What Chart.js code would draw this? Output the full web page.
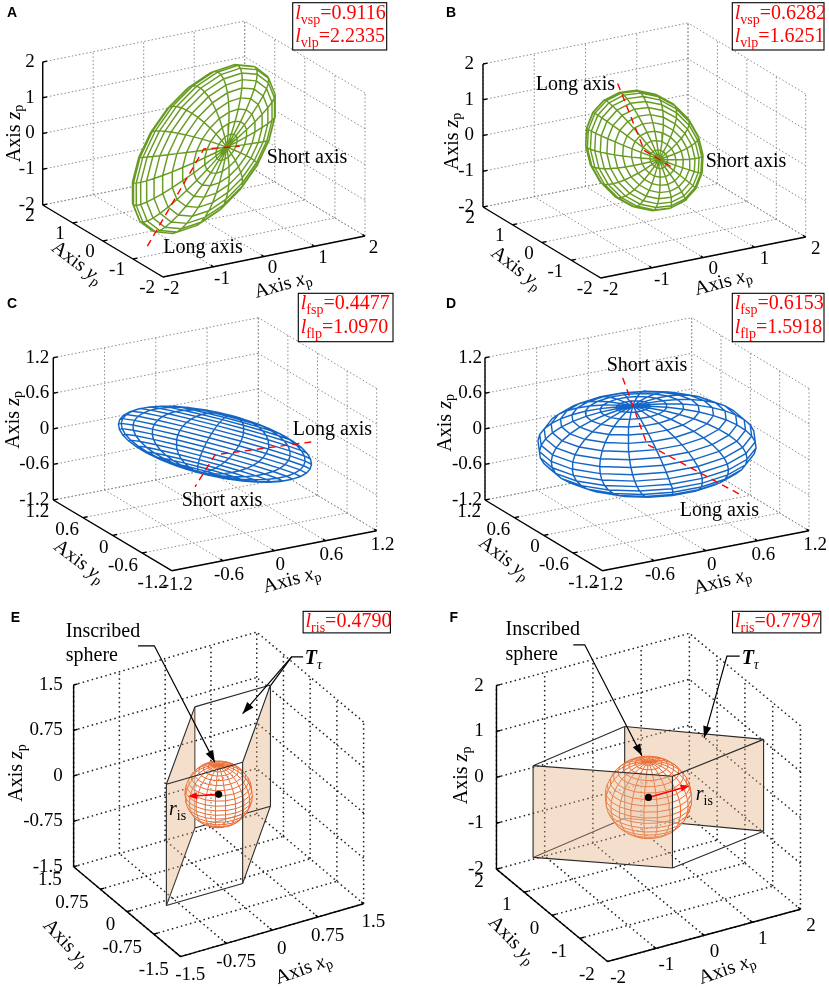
<!DOCTYPE html>
<html>
<head>
<meta charset="utf-8">
<title>Fitted ellipsoids and inscribed spheres</title>
<script src="https://cdn.jsdelivr.net/npm/chart.js@4.4.1/dist/chart.umd.min.js"></script>
<style>
  html, body { margin: 0; padding: 0; background: #fff; }
  #figure { position: relative; width: 829px; height: 989px; overflow: hidden; background: #fff; }
  #figure canvas { position: absolute; }
</style>
</head>
<body>
<div id="figure"></div>
<script>
// ---------- values ----------
const axisTicksA = [-2, -1, 0, 1, 2];
const axisTicksB = [-2, -1, 0, 1, 2];
const axisTicksC = [-1.2, -0.6, 0, 0.6, 1.2];
const axisTicksD = [-1.2, -0.6, 0, 0.6, 1.2];
const axisTicksE = [-1.5, -0.75, 0, 0.75, 1.5];
const axisTicksF = [-2, -1, 0, 1, 2];
const tickLabelsVol = ['-2', '-1', '0', '1', '2'];
const tickLabelsForm = ['-1.2', '-0.6', '0', '0.6', '1.2'];
const tickLabelsE = ['-1.5', '-0.75', '0', '0.75', '1.5'];

// lengths printed in the red boxes
const lengthNamesA = ['vsp', 'vlp'], lengthsA = [0.9116, 2.2335];
const lengthNamesB = ['vsp', 'vlp'], lengthsB = [0.6282, 1.6251];
const lengthNamesC = ['fsp', 'flp'], lengthsC = [0.4477, 1.0970];
const lengthNamesD = ['fsp', 'flp'], lengthsD = [0.6153, 1.5918];
const lengthNamesE = ['ris'], lengthsE = [0.4790];
const lengthNamesF = ['ris'], lengthsF = [0.7797];

// ellipsoids: semi-axes [equator 1, equator 2, polar] and their directions in (x_p, y_p, z_p)
const radiiA = [2.2335, 1.0, 0.9116];
const equatorDirA = [-0.648, -0.370, -0.666];
const poleDirA = [-0.018, -0.866, 0.498];
const radiiB = [1.6251, 1.0, 0.6282];
const equatorDirB = [-0.192, 0.148, 0.970];
const poleDirB = [-0.110, -0.985, 0.129];
const radiiC = [1.0970, 0.81, 0.4477];
const equatorDirC = [0.423, -0.906, 0.0];
const poleDirC = [0.583, 0.272, 0.766];
const radiiD = [1.5918, 1.05, 0.6153];
const equatorDirD = [-0.155, -0.962, 0.219];
const poleDirD = [-0.13, 0.24, 0.96];

// red dashed axis lines: long end, centre, short end
const redAxisA = [[-1.69, -0.96, -1.75], [0, 0, 0], [-0.03, -1.24, 0.71]];
const redAxisB = [[-0.36, 0.28, 1.84], [0, 0, 0], [-0.15, -1.31, 0.17]];
const redAxisC = [[1.04, -0.15, -0.18], [0, 0, -0.18], [-0.28, -0.08, -0.60]];
const redAxisD = [[0.30, -1.35, -0.25], [0, 0, 0], [-0.14, 0.26, 1.05]];

// T_tau prisms: footprint corners (back-left, back-right, front-right, front-left), z range
const prismE = [[0.10, 0.84], [1.34, 0.84], [-0.12, -0.88], [-1.37, -0.88]];
const prismHeightE = [-1, 1];
const prismF = [[0.10, 1.03], [2.03, -0.62], [-0.09, -1.02], [-2.07, 0.56]];
const prismHeightF = [-1, 1];
const radiusArrowE = [-0.40, 0.17, 0];
const radiusArrowF = [0.86, 0.02, 0];

// ---------- styles ----------
const SERIF = '"Liberation Serif", "Times New Roman", serif';
const SANS = '"Liberation Sans", Arial, sans-serif';
const GREEN = '#679b22';
const BLUE = '#1466c6';
const ORANGE = '#ea6d34';
const TAN = 'rgba(226, 168, 120, 0.38)';
const DEG = Math.PI / 180;

// ---------- small vector helpers ----------
const add = (a, b) => [a[0] + b[0], a[1] + b[1], a[2] + b[2]];
const sub = (a, b) => [a[0] - b[0], a[1] - b[1], a[2] - b[2]];
const mul = (a, s) => [a[0] * s, a[1] * s, a[2] * s];
const dot = (a, b) => a[0] * b[0] + a[1] * b[1] + a[2] * b[2];
const cross = (a, b) => [a[1] * b[2] - a[2] * b[1], a[2] * b[0] - a[0] * b[2], a[0] * b[1] - a[1] * b[0]];
const unit = a => mul(a, 1 / Math.hypot(a[0], a[1], a[2]));
const mean = pts => mul(pts.reduce(add, [0, 0, 0]), 1 / pts.length);

// orthographic view of the axes box (pixel vectors span the full axis range)
function makeView(v, lo, hi) {
    const s = hi - lo;
    const to2d = p => {
        const a = (p[0] - lo) / s, b = (p[1] - lo) / s, c = (p[2] - lo) / s;
        return {
            x: v.O[0] + a * v.ex[0] + b * v.ey[0] + c * v.ez[0],
            y: v.O[1] + a * v.ex[1] + b * v.ey[1] + c * v.ez[1]
        };
    };
    const row1 = [v.ex[0] / s, v.ey[0] / s, v.ez[0] / s];
    const row2 = [v.ex[1] / s, v.ey[1] / s, v.ez[1] / s];
    return {to2d, toViewer: unit(mul(cross(row1, row2), -1))};
}

function lineSet(polys, V, style) {
    const data = [];
    polys.forEach(poly => {
        poly.forEach(p => data.push(V ? V.to2d(p) : {x: p[0], y: p[1]}));
        data.push({x: NaN, y: NaN});
    });
    return Object.assign({
        data, showLine: true, pointRadius: 0, fill: false, spanGaps: false,
        borderWidth: 1, borderColor: '#000'
    }, style);
}

function shapeSet(pts, color) {
    return {data: pts.concat([pts[0]]), showLine: true, pointRadius: 0, borderWidth: 0, fill: 'shape', backgroundColor: color};
}

function headPoly(a, b, len, half) {
    const dx = b.x - a.x, dy = b.y - a.y, L = Math.hypot(dx, dy);
    const ux = dx / L, uy = dy / L;
    const bx = b.x - ux * len, by = b.y - uy * len;
    return [{x: b.x, y: b.y}, {x: bx - uy * half, y: by + ux * half}, {x: bx + uy * half, y: by - ux * half}];
}

function hull(pts) {
    const p = pts.slice().sort((a, b) => a.x - b.x || a.y - b.y);
    const cr = (o, a, b) => (a.x - o.x) * (b.y - o.y) - (a.y - o.y) * (b.x - o.x);
    const lower = [], upper = [];
    for (const q of p) {
        while (lower.length >= 2 && cr(lower[lower.length - 2], lower[lower.length - 1], q) <= 0) lower.pop();
        lower.push(q);
    }
    for (let k = p.length - 1; k >= 0; k--) {
        const q = p[k];
        while (upper.length >= 2 && cr(upper[upper.length - 2], upper[upper.length - 1], q) <= 0) upper.pop();
        upper.push(q);
    }
    upper.pop();
    lower.pop();
    return lower.concat(upper);
}

// MATLAB style ellipsoid(…, 20) mesh, only the edges that face the viewer
function meshEdges(E, V) {
    const n = 20;
    const u3 = unit(E.pole);
    const u1 = unit(sub(E.eq, mul(u3, dot(E.eq, u3))));
    const u2 = cross(u3, u1);
    const c = E.c || [0, 0, 0];
    const P = [];
    for (let j = 0; j <= n; j++) {
        const ph = -Math.PI / 2 + Math.PI * j / n;
        const row = [];
        for (let i = 0; i <= n; i++) {
            const th = -Math.PI + 2 * Math.PI * i / n;
            const a = E.r[0] * Math.cos(ph) * Math.cos(th);
            const b = E.r[1] * Math.cos(ph) * Math.sin(th);
            const z = E.r[2] * Math.sin(ph);
            row.push(add(c, add(mul(u1, a), add(mul(u2, b), mul(u3, z)))));
        }
        P.push(row);
    }
    const vis = (i, j) => {
        if (j < 0 || j >= n) return false;
        i = ((i % n) + n) % n;
        const ph = -Math.PI / 2 + Math.PI * (j + 0.5) / n;
        const th = -Math.PI + 2 * Math.PI * (i + 0.5) / n;
        const nv = add(mul(u1, Math.cos(ph) * Math.cos(th) / E.r[0]),
            add(mul(u2, Math.cos(ph) * Math.sin(th) / E.r[1]), mul(u3, Math.sin(ph) / E.r[2])));
        return dot(nv, V.toViewer) > 0;
    };
    const polys = [];
    for (let j = 1; j < n; j++) {
        let cur = null;
        for (let i = 0; i < n; i++) {
            if (vis(i, j - 1) || vis(i, j)) {
                if (!cur) { cur = [P[j][i]]; polys.push(cur); }
                cur.push(P[j][i + 1]);
            } else cur = null;
        }
    }
    for (let i = 0; i < n; i++) {
        let cur = null;
        for (let j = 0; j < n; j++) {
            if (vis(i - 1, j) || vis(i, j)) {
                if (!cur) { cur = [P[j][i]]; polys.push(cur); }
                cur.push(P[j + 1][i]);
            } else cur = null;
        }
    }
    return {polys, points: [].concat(...P)};
}

function gridLines(t, lo, hi) {
    const L = [];
    t.forEach(v => {
        L.push([[v, lo, lo], [v, hi, lo]]);
        L.push([[lo, v, lo], [hi, v, lo]]);
        L.push([[v, hi, lo], [v, hi, hi]]);
        L.push([[lo, hi, v], [hi, hi, v]]);
        L.push([[hi, v, lo], [hi, v, hi]]);
        L.push([[hi, lo, v], [hi, hi, v]]);
    });
    return L;
}

// ---------- panel layout ----------
const note = (text, at) => ({runs: [{t: text}], at});
const tRuns = [{t: 'T', style: 'bold italic'}, {t: '\u03c4', style: 'italic', sub: true}];
const rRuns = [{t: 'r', style: 'italic'}, {t: 'is', sub: true}];

const panels = [
    {
        letter: 'A', left: 0, top: 0, w: 414, h: 300, ticks: axisTicksA, labels: tickLabelsVol,
        view: {O: [163, 277], ex: [202, -41], ey: [-120.3, -72], ez: [0, -143]},
        tickPos: {z: -8, y: [-8, 11], x: [8.5, 12]},
        titlePos: {x: [19, 28.5], y: [-26, 22], z: [-28, 0]},
        letterPos: [7, 17], box: [292.7, 2.7, 386.7, 50], names: lengthNamesA, values: lengthsA,
        ellipsoid: {r: radiiA, eq: equatorDirA, pole: poleDirA, color: GREEN}, red: redAxisA,
        notes: [note('Short axis', [266.7, 163.3]), note('Long axis', [163.3, 252.5])]
    },
    {
        letter: 'B', left: 414, top: 0, w: 415, h: 300, ticks: axisTicksB, labels: tickLabelsVol,
        view: {O: [600.7, 278], ex: [205, -41], ey: [-117.7, -71], ez: [0, -143]},
        tickPos: {z: -9, y: [-8, 11.3], x: [10, 12]},
        titlePos: {x: [20, 25], y: [-25.6, 25.8], z: [-30.7, 6]},
        letterPos: [446, 17], box: [732.3, 2.7, 824, 50], names: lengthNamesB, values: lengthsB,
        ellipsoid: {r: radiiB, eq: equatorDirB, pole: poleDirB, color: GREEN}, red: redAxisB,
        notes: [note('Long axis', [535.7, 90]), note('Short axis', [705.7, 166.7])]
    },
    {
        letter: 'C', left: 0, top: 290, w: 414, h: 315, ticks: axisTicksC, labels: tickLabelsForm,
        view: {O: [171.7, 570.7], ex: [205, -40], ey: [-118.4, -70.7], ez: [0, -142.3]},
        tickPos: {z: -4, y: [-4, 12.5], x: [6, 14]},
        titlePos: {x: [17.5, 29.3], y: [-33.5, 26.3], z: [-40, -9]},
        letterPos: [7, 308], box: [298.3, 293.3, 393, 341.7], names: lengthNamesC, values: lengthsC,
        ellipsoid: {r: radiiC, eq: equatorDirC, pole: poleDirC, color: BLUE}, red: redAxisC,
        notes: [note('Long axis', [292.7, 435]), note('Short axis', [181.7, 506])]
    },
    {
        letter: 'D', left: 414, top: 290, w: 415, h: 315, ticks: axisTicksD, labels: tickLabelsForm,
        view: {O: [602.3, 570.7], ex: [206.7, -40], ey: [-117.3, -70.7], ez: [0, -142.3]},
        tickPos: {z: -3, y: [-4, 12], x: [6, 14]},
        titlePos: {x: [16.7, 31], y: [-39.6, 23], z: [-39.3, -6]},
        letterPos: [446, 308], box: [732.3, 293.3, 824, 341.7], names: lengthNamesD, values: lengthsD,
        ellipsoid: {r: radiiD, eq: equatorDirD, pole: poleDirD, color: BLUE}, red: redAxisD,
        notes: [note('Short axis', [606.7, 370.7]), note('Long axis', [679.7, 516])]
    },
    {
        letter: 'E', left: 0, top: 600, w: 414, h: 389, ticks: axisTicksE, labels: tickLabelsE,
        view: {O: [180, 960], ex: [186.7, -54], ey: [-109, -91.7], ez: [0, -185.6]},
        tickPos: {z: -11, y: [-12, 14], x: [10, 19]},
        titlePos: {x: [32, 40], y: [-62, 32.5], z: [-57.7, -3]},
        letterPos: [7, 618.5], box: [305, 607.5, 394, 629.5], names: lengthNamesE, values: lengthsE,
        sphere: {r: lengthsE[0], color: ORANGE}, prism: prismE, prismZ: prismHeightE, faces: [[0, 3], [1, 2]],
        arrow: radiusArrowE,
        notes: [note('Inscribed', [63, 634]), note('sphere', [63, 658.3]),
            {runs: tRuns, at: [306.7, 661.7]}, {runs: rRuns, at: [168.3, 815]}],
        leaders: [
            {pts: [[136.7, 642.7], [153.3, 642.7], [215, 761.7]], head: true},
            {pts: [[305, 654], [293.3, 654], [243.3, 712]], head: true},
            {pts: [[293.3, 654], [272, 683]], head: false}
        ]
    },
    {
        letter: 'F', left: 414, top: 600, w: 415, h: 389, ticks: axisTicksF, labels: tickLabelsVol,
        view: {O: [607.3, 965], ex: [196.7, -53.3], ey: [-113.3, -94.3], ez: [0, -187.4]},
        tickPos: {z: -13, y: [-13, 13.5], x: [10.7, 17]},
        titlePos: {x: [23.4, 35], y: [-41, 25.5], z: [-35, -2]},
        letterPos: [446, 618.5], box: [734.7, 607.5, 824.7, 629.5], names: lengthNamesF, values: lengthsF,
        sphere: {r: lengthsF[0], color: ORANGE}, prism: prismF, prismZ: prismHeightF, faces: [[0, 1], [2, 3]],
        arrow: radiusArrowF,
        notes: [note('Inscribed', [503.3, 631.7]), note('sphere', [503.3, 656.7]),
            {runs: tRuns, at: [744, 661.7]}, {runs: rRuns, at: [697.3, 800]}],
        leaders: [
            {pts: [[572.3, 641.7], [584, 641.7], [642.3, 755]], head: true},
            {pts: [[742, 653.3], [729, 653.3], [705.7, 736.7]], head: true}
        ]
    }
];

function buildDatasets(S) {
    const lo = S.ticks[0], hi = S.ticks[S.ticks.length - 1];
    const V = makeView(S.view, lo, hi);
    const sets = [];
    const boxed = !!S.prism;
    sets.push(lineSet(gridLines(S.ticks, lo, hi), V, boxed
        ? {borderColor: '#1c1c1c', borderWidth: 1.5, borderDash: [1.5, 3.2]}
        : {borderColor: '#8a8a8a', borderWidth: 1, borderDash: [1.5, 2.2]}));

    const k = 0.022 * (hi - lo);
    const axes = [[[lo, lo, lo], [hi, lo, lo]], [[lo, lo, lo], [lo, hi, lo]], [[lo, hi, lo], [lo, hi, hi]]];
    S.ticks.forEach(t => {
        axes.push([[t, lo, lo], [t, lo + k, lo]]);
        axes.push([[lo, t, lo], [lo + k, t, lo]]);
        axes.push([[lo, hi, t], [lo + k, hi, t]]);
    });
    sets.push(lineSet(axes, V, {borderColor: '#000', borderWidth: 1.4}));

    if (S.ellipsoid) {
        const M = meshEdges(S.ellipsoid, V);
        sets.push(shapeSet(hull(M.points.map(V.to2d)), '#ffffff'));
        sets.push(lineSet(M.polys, V, {borderColor: S.ellipsoid.color, borderWidth: 1.45}));
        sets.push(lineSet([S.red], V, {borderColor: '#ff0000', borderWidth: 1.4, borderDash: [7, 5]}));
    }

    if (S.sphere) {
        const depth = p => dot(p, V.toViewer);
        const top = S.prism.map(c => [c[0], c[1], S.prismZ[1]]);
        const bot = S.prism.map(c => [c[0], c[1], S.prismZ[0]]);
        const edges = [];
        for (let q = 0; q < 4; q++) {
            edges.push([top[q], top[(q + 1) % 4]], [bot[q], bot[(q + 1) % 4]], [bot[q], top[q]]);
        }
        const faces = S.faces.map(([a, b]) => [bot[a], bot[b], top[b], top[a]]);
        const behind = f => depth(mean(f)) < 0;
        const edgeStyle = {borderColor: '#2a2a2a', borderWidth: 1.1};
        faces.filter(behind).forEach(f => sets.push(shapeSet(f.map(V.to2d), TAN)));
        sets.push(lineSet(edges.filter(behind), V, edgeStyle));

        const M = meshEdges({r: [S.sphere.r, S.sphere.r, S.sphere.r], eq: [1, 0, 0], pole: [0, 0, 1]}, V);
        sets.push(shapeSet(hull(M.points.map(V.to2d)), 'rgba(255,255,255,0.55)'));
        sets.push(lineSet(M.polys, V, {borderColor: S.sphere.color, borderWidth: 1}));

        faces.filter(f => !behind(f)).forEach(f => sets.push(shapeSet(f.map(V.to2d), TAN)));
        sets.push(lineSet(edges.filter(e => !behind(e)), V, edgeStyle));

        const a = V.to2d([0, 0, 0]), b = V.to2d(S.arrow);
        const head = headPoly(a, b, 9, 3.6);
        const base = {x: (head[1].x + head[2].x) / 2, y: (head[1].y + head[2].y) / 2};
        sets.push(lineSet([[[a.x, a.y], [base.x, base.y]]], null, {borderColor: '#ff0000', borderWidth: 1.6}));
        sets.push(shapeSet(head, '#ff0000'));
        sets.push({data: [a], showLine: false, pointRadius: 3.6, pointBackgroundColor: '#000', pointBorderWidth: 0});

        S.leaders.forEach(Ld => {
            sets.push(lineSet([Ld.pts], null, {borderColor: '#000', borderWidth: 1.2}));
            if (Ld.head) {
                const n = Ld.pts.length;
                const p0 = {x: Ld.pts[n - 2][0], y: Ld.pts[n - 2][1]}, p1 = {x: Ld.pts[n - 1][0], y: Ld.pts[n - 1][1]};
                sets.push(shapeSet(headPoly(p0, p1, 12, 4.2), '#000'));
            }
        });
    }
    sets.forEach((d, i) => { d.order = -i; });
    return {sets, V, lo, hi};
}

function textItems(S, V, lo, hi) {
    const items = [];
    S.ticks.forEach((t, i) => {
        const lab = [{t: S.labels[i]}];
        let p = V.to2d([lo, hi, t]);
        items.push({x: p.x + S.tickPos.z, y: p.y, align: 'right', baseline: 'middle', size: 19, runs: lab});
        p = V.to2d([lo, t, lo]);
        items.push({x: p.x + S.tickPos.y[0], y: p.y + S.tickPos.y[1], align: 'right', baseline: 'middle', size: 19, runs: lab});
        p = V.to2d([t, lo, lo]);
        items.push({x: p.x + S.tickPos.x[0], y: p.y + S.tickPos.x[1], align: 'center', baseline: 'middle', size: 19, runs: lab});
    });
    const mid = (lo + hi) / 2;
    const ex = S.view.ex, ey = S.view.ey;
    const title = v => [{t: 'Axis '}, {t: v, style: 'italic'}, {t: 'p', sub: true}];
    let p = V.to2d([mid, lo, lo]);
    items.push({x: p.x + S.titlePos.x[0], y: p.y + S.titlePos.x[1], align: 'center', baseline: 'middle',
        rot: Math.atan2(ex[1], ex[0]) - 4 * DEG, runs: title('x')});
    p = V.to2d([lo, mid, lo]);
    items.push({x: p.x + S.titlePos.y[0], y: p.y + S.titlePos.y[1], align: 'center', baseline: 'middle',
        rot: Math.atan2(-ey[1], -ey[0]) + 6 * DEG, runs: title('y')});
    p = V.to2d([lo, hi, mid]);
    items.push({x: p.x + S.titlePos.z[0], y: p.y + S.titlePos.z[1], align: 'center', baseline: 'middle',
        rot: -Math.PI / 2, runs: title('z')});

    S.notes.forEach(nt => items.push({x: nt.at[0], y: nt.at[1], runs: nt.runs}));
    S.names.forEach((nm, k) => items.push({
        x: S.box[0] + 2.5, y: S.box[1] + 16 + 23.5 * k, color: '#ff0000',
        runs: [{t: 'l', style: 'italic'}, {t: nm, sub: true}, {t: '=' + S.values[k].toFixed(4)}]
    }));
    items.push({x: S.letterPos[0], y: S.letterPos[1], size: 14, family: SANS, runs: [{t: S.letter, style: 'bold'}]});
    return items;
}

function drawRuns(ctx, it, px, py) {
    const size = it.size || 20;
    const fam = it.family || SERIF;
    const fonts = it.runs.map(r => `${r.style || ''} ${r.sub ? size * 0.7 : size}px ${fam}`);
    const widths = it.runs.map((r, k) => { ctx.font = fonts[k]; return ctx.measureText(r.t).width; });
    const total = widths.reduce((a, b) => a + b, 0);
    let x = it.align === 'center' ? -total / 2 : it.align === 'right' ? -total : 0;
    ctx.save();
    ctx.translate(px, py);
    if (it.rot) ctx.rotate(it.rot);
    ctx.textAlign = 'left';
    ctx.textBaseline = it.baseline || 'alphabetic';
    it.runs.forEach((r, k) => {
        ctx.font = fonts[k];
        ctx.fillStyle = it.color || '#000';
        ctx.fillText(r.t, x, r.sub ? size * 0.25 : 0);
        x += widths[k];
    });
    ctx.restore();
}

function textPlugin(items, box) {
    return {
        id: 'panelText',
        afterDatasetsDraw(chart) {
            const ctx = chart.ctx, sx = chart.scales.x, sy = chart.scales.y;
            ctx.save();
            const x0 = sx.getPixelForValue(box[0]), y0 = sy.getPixelForValue(box[1]);
            const x1 = sx.getPixelForValue(box[2]), y1 = sy.getPixelForValue(box[3]);
            ctx.fillStyle = '#fff';
            ctx.fillRect(x0, y0, x1 - x0, y1 - y0);
            ctx.strokeStyle = '#000';
            ctx.lineWidth = 1.1;
            ctx.strokeRect(x0, y0, x1 - x0, y1 - y0);
            items.forEach(it => drawRuns(ctx, it, sx.getPixelForValue(it.x), sy.getPixelForValue(it.y)));
            ctx.restore();
        }
    };
}

const figure = document.getElementById('figure');
panels.forEach(S => {
    const canvas = document.createElement('canvas');
    canvas.width = S.w;
    canvas.height = S.h;
    canvas.style.left = S.left + 'px';
    canvas.style.top = S.top + 'px';
    canvas.style.width = S.w + 'px';
    canvas.style.height = S.h + 'px';
    figure.appendChild(canvas);
    const built = buildDatasets(S);
    new Chart(canvas, {
        type: 'scatter',
        data: {datasets: built.sets},
        options: {
            responsive: false,
            animation: false,
            events: [],
            layout: {padding: 0},
            plugins: {legend: {display: false}, tooltip: {enabled: false}},
            scales: {
                x: {type: 'linear', min: S.left, max: S.left + S.w, display: false},
                y: {type: 'linear', min: S.top, max: S.top + S.h, reverse: true, display: false}
            }
        },
        plugins: [textPlugin(textItems(S, built.V, built.lo, built.hi), S.box)]
    });
});
</script>
</body>
</html>
